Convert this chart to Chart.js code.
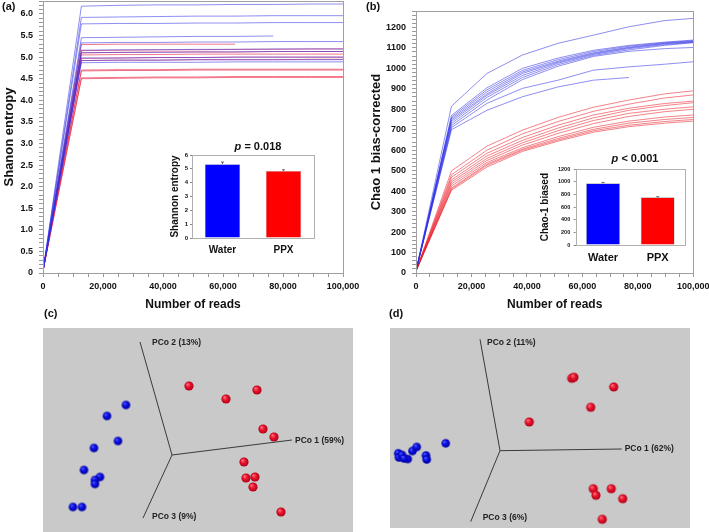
<!DOCTYPE html>
<html><head><meta charset="utf-8">
<script src="https://cdn.jsdelivr.net/npm/chart.js@4"></script>
<style>
body{margin:0;background:#fff;}
#wrap{position:relative;width:709px;height:532px;overflow:hidden;background:#fff;}
canvas{position:absolute;}
.lbl{position:absolute;font:bold 11px "Liberation Sans",Arial,sans-serif;color:#111;line-height:13px;}
</style></head><body>
<div id="wrap">
<canvas id="ca" width="366" height="312" style="left:0;top:0"></canvas>
<canvas id="cb" width="359" height="312" style="left:350px;top:0"></canvas>
<canvas id="ia" width="160" height="140" style="left:160px;top:130px"></canvas>
<canvas id="ib" width="170" height="140" style="left:530px;top:140px"></canvas>
<canvas id="cc" width="310" height="204" style="left:43px;top:328px"></canvas>
<canvas id="cd" width="300" height="200" style="left:390px;top:328px"></canvas>
<div class="lbl" style="left:2px;top:0">(a)</div>
<div class="lbl" style="left:366px;top:0">(b)</div>
<div class="lbl" style="left:44px;top:307px">(c)</div>
<div class="lbl" style="left:389px;top:307px">(d)</div>
</div>
<script>
// ---------------- DATA ----------------
const readsX = [0, 12800, 25600, 38400, 51200, 64000, 76800, 89600, 100000];

const shannonWater = [
  [0.05, 6.18, 6.20, 6.21, 6.21, 6.22, 6.22, 6.23, 6.23],
  [0.05, 5.92, 5.93, 5.94, 5.95, 5.95, 5.96, 5.96, 5.96],
  [0.05, 5.77, 5.78, 5.78, 5.79, 5.79, 5.80, 5.80, 5.80],
  [0.05, 5.45, 5.46, 5.47, 5.48, 5.48, 5.49],
  [0.05, 5.33, 5.34, 5.34, 5.35, 5.35, 5.36, 5.36, 5.36],
  [0.05, 5.16, 5.17, 5.17, 5.18, 5.18, 5.19, 5.19, 5.19],
  [0.05, 5.10, 5.11, 5.11, 5.12, 5.12, 5.13, 5.13, 5.13],
  [0.05, 4.98, 4.98, 4.99, 4.99, 5.00, 5.00, 5.00, 5.00],
  [0.05, 4.92, 4.93, 4.93, 4.94, 4.94, 4.94, 4.94, 4.94],
  [0.05, 4.87, 4.88, 4.88, 4.88, 4.89, 4.89, 4.89, 4.89]
];
const shannonPPX = [
  [0.05, 5.29, 5.30, 5.30, 5.30, 5.30],
  [0.05, 5.15, 5.16, 5.17, 5.17, 5.18, 5.18, 5.19, 5.19],
  [0.05, 5.10, 5.11, 5.12, 5.12, 5.12, 5.13, 5.13, 5.13],
  [0.05, 5.05, 5.06, 5.06, 5.07, 5.07, 5.07, 5.07, 5.07],
  [0.05, 4.97, 4.98, 4.99, 4.99, 5.00, 5.00, 5.00, 5.00],
  [0.05, 4.92, 4.93, 4.93, 4.94, 4.94, 4.94, 4.95, 4.95],
  [0.05, 4.70, 4.71, 4.71, 4.72, 4.72, 4.72, 4.72, 4.72],
  [0.05, 4.68, 4.69, 4.69, 4.70, 4.70, 4.70, 4.70, 4.70],
  [0.05, 4.52, 4.53, 4.54, 4.54, 4.55, 4.55, 4.55, 4.55],
  [0.05, 4.50, 4.51, 4.52, 4.52, 4.53, 4.53, 4.53, 4.53]
];

const chaoWater = [
  [10, 815, 975, 1065, 1122, 1162, 1203, 1233, 1244],
  [10, 770, 905, 1000, 1050, 1088, 1112, 1128, 1138],
  [10, 762, 895, 990, 1042, 1082, 1108, 1125, 1135],
  [10, 755, 885, 982, 1035, 1076, 1103, 1122, 1132],
  [10, 748, 875, 975, 1030, 1072, 1100, 1120, 1130],
  [10, 740, 868, 965, 1025, 1068, 1096, 1116, 1127],
  [10, 730, 858, 955, 1018, 1063, 1090, 1112, 1125],
  [10, 720, 845, 945, 1010, 1058, 1083, 1096, 1102],
  [10, 710, 829, 902, 942, 991, 1007, 1020, 1032],
  [10, 700, 795, 861, 909, 942, 955]
];
const chaoPPX = [
  [10, 499, 620, 698, 760, 810, 845, 875, 890],
  [10, 480, 600, 680, 740, 790, 825, 855, 870],
  [10, 468, 585, 662, 722, 772, 805, 828, 840],
  [10, 455, 572, 648, 708, 758, 795, 818, 832],
  [10, 445, 560, 636, 695, 745, 780, 800, 812],
  [10, 435, 550, 625, 682, 730, 765, 788, 800],
  [10, 425, 540, 612, 666, 712, 742, 762, 772],
  [10, 415, 532, 605, 657, 702, 732, 750, 760],
  [10, 410, 526, 600, 650, 695, 722, 740, 750],
  [10, 404, 518, 594, 644, 688, 715, 732, 742]
];

const groups = ['Water', 'PPX'];
const shannonMean = [5.34, 4.85];
const shannonErr = [0.15, 0.08];
const chaoMean = [978, 756];
const chaoErr = [14, 10];

// PCoA (projected coordinates, origin = centre of the axes)
const pcoaCWater = [
  {x:-0.46,y:0.50},{x:-0.65,y:0.39},{x:-0.54,y:0.14},{x:-0.78,y:0.07},{x:-0.88,y:-0.15},
  {x:-0.72,y:-0.22},{x:-0.77,y:-0.25},{x:-0.77,y:-0.29},{x:-0.99,y:-0.52},{x:-0.90,y:-0.52}
];
const pcoaCPPX = [
  {x:0.17,y:0.69},{x:0.54,y:0.56},{x:0.85,y:0.65},{x:0.91,y:0.26},{x:1.02,y:0.18},
  {x:0.72,y:-0.07},{x:0.74,y:-0.23},{x:0.83,y:-0.22},{x:0.81,y:-0.32},{x:1.09,y:-0.57}
];
const pcoaCAxes = [{x:1.20,y:0.15},{x:-0.32,y:1.13},{x:-0.29,y:-0.63}];
const pcoaCLabels = ['PCo 1 (59%)', 'PCo 2 (13%)', 'PCo 3 (9%)'];

const pcoaDWater = [
  {x:-1.017,y:-0.026},{x:-1.01,y:-0.068},{x:-0.98,y:-0.043},{x:-0.923,y:-0.083},{x:-0.875,y:-0.003},
  {x:-0.833,y:0.037},{x:-0.74,y:-0.048},{x:-0.733,y:-0.088},{x:-0.543,y:0.074},{x:-0.96,y:-0.078}
];
const pcoaDPPX = [
  {x:0.717,y:0.724},{x:0.74,y:0.734},{x:1.137,y:0.637},{x:0.907,y:0.434},{x:0.293,y:0.287},
  {x:0.933,y:-0.38},{x:0.96,y:-0.446},{x:1.113,y:-0.38},{x:1.227,y:-0.48},{x:1.023,y:-0.686}
];
const pcoaDAxes = [{x:1.217,y:0.017},{x:-0.20,y:1.114},{x:-0.293,y:-0.71}];
const pcoaDLabels = ['PCo 1 (62%)', 'PCo 2 (11%)', 'PCo 3 (6%)'];

// ---------------- RENDERING ----------------
const FAM = '"Liberation Sans", Arial, sans-serif';
Chart.defaults.font.family = FAM;
Chart.defaults.color = '#111';

const framePlugin = {
  id: 'frame',
  beforeDatasetsDraw(chart, args, o) {
    if (o && o.fill) {
      const a = chart.chartArea, ctx = chart.ctx;
      ctx.save(); ctx.fillStyle = o.fill; ctx.fillRect(a.left, a.top, a.right - a.left, a.bottom - a.top); ctx.restore();
    }
  },
  afterDraw(chart, args, o) {
    const a = chart.chartArea, ctx = chart.ctx;
    ctx.save(); ctx.strokeStyle = (o && o.color) || '#9a9a9a'; ctx.lineWidth = 1;
    ctx.strokeRect(Math.round(a.left) + 0.5, Math.round(a.top) + 0.5, Math.round(a.right - a.left), Math.round(a.bottom - a.top));
    ctx.restore();
  }
};

function toPts(arr) { return arr.map((v, i) => ({x: readsX[i], y: v})); }

function rarefaction(id, water, ppx, cfg) {
  const ds = [];
  water.forEach(s => ds.push({data: toPts(s), borderColor: cfg.blue, borderWidth: 1, pointRadius: 0, tension: 0}));
  ppx.forEach(s => ds.push({data: toPts(s), borderColor: cfg.red, borderWidth: 1, pointRadius: 0, tension: 0}));
  new Chart(document.getElementById(id), {
    type: 'line',
    data: {datasets: ds},
    options: {
      responsive: false, animation: false,
      layout: {autoPadding: false, padding: {left: 0, right: cfg.padRight, top: cfg.padTop, bottom: 0}},
      plugins: {legend: {display: false}, tooltip: {enabled: false}, frame: {color: '#a0a0a0'}},
      scales: {
        x: {
          type: 'linear', min: 0, max: 100000,
          afterFit(s) { s.height = 39; s.paddingLeft = 0; s.paddingRight = 0; },
          ticks: {stepSize: 5000, autoSkip: false, maxRotation: 0, minRotation: 0, padding: 4,
            font: {size: 9, weight: 'bold'}, color: '#111',
            callback: v => (v % 20000 === 0 ? v.toLocaleString('en-US') : '')},
          grid: {drawOnChartArea: false, drawTicks: true, tickLength: 4, color: '#999'},
          border: {color: '#a0a0a0'},
          title: {display: true, text: 'Number of reads', font: {size: 12, weight: 'bold'}, color: '#111', padding: {top: 0, bottom: 0}}
        },
        y: {
          min: 0, max: cfg.yMax,
          afterFit(s) { s.width = cfg.yWidth; s.paddingTop = 0; s.paddingBottom = 0; },
          ticks: {stepSize: cfg.minor, autoSkip: false, padding: 6, font: {size: 9, weight: 'bold'}, color: '#111',
            callback: cfg.yLabel},
          grid: {drawOnChartArea: false, drawTicks: true, tickLength: 4, color: '#999'},
          border: {color: '#a0a0a0'},
          title: {display: true, text: cfg.yTitle, font: {size: 13, weight: 'bold'}, color: '#111', padding: {top: cfg.titlePad, bottom: 0}}
        }
      }
    },
    plugins: [framePlugin]
  });
}

rarefaction('ca', shannonWater, shannonPPX, {
  blue: 'rgba(50,50,230,0.55)', red: 'rgba(235,30,60,0.6)',
  padRight: 23, padTop: 1, yMax: 6.3, minor: 0.1, yWidth: 43, titlePad: 2,
  yTitle: 'Shanon entropy',
  yLabel: v => { const k = Math.round(v * 10); if (k % 5 !== 0) return ''; return k === 0 ? '0' : (k / 10).toFixed(1); }
});
rarefaction('cb', chaoWater, chaoPPX, {
  blue: 'rgba(50,50,230,0.55)', red: 'rgba(235,30,40,0.55)',
  padRight: 15.7, padTop: 11, yMax: 1280, minor: 20, yWidth: 66, titlePad: 19,
  yTitle: 'Chao 1 bias-corrected',
  yLabel: v => (Math.round(v) % 100 === 0 ? String(Math.round(v)) : '')
});

const insetPlugin = {
  id: 'inset',
  afterDraw(chart, args, o) {
    const ctx = chart.ctx;
    ctx.save(); ctx.fillStyle = '#111'; ctx.textBaseline = 'middle'; ctx.textAlign = 'left';
    const f1 = `italic bold ${o.size}px ${FAM}`, f2 = `bold ${o.size}px ${FAM}`;
    ctx.font = f1; const w1 = ctx.measureText(o.p).width;
    ctx.font = f2; const w2 = ctx.measureText(o.rest).width;
    const x0 = o.x - (w1 + w2) / 2;
    ctx.font = f1; ctx.fillText(o.p, x0, o.y);
    ctx.font = f2; ctx.fillText(o.rest, x0 + w1, o.y);
    // error bars
    const meta = chart.getDatasetMeta(0), ys = chart.scales.y;
    ctx.strokeStyle = '#666'; ctx.lineWidth = 1;
    meta.data.forEach((el, i) => {
      const yT = ys.getPixelForValue(o.mean[i] + o.err[i]);
      ctx.beginPath(); ctx.moveTo(el.x, el.y); ctx.lineTo(el.x, yT);
      ctx.moveTo(el.x - 1.5, yT); ctx.lineTo(el.x + 1.5, yT); ctx.stroke();
    });
    ctx.restore();
  }
};

function insetChart(id, cfg) {
  new Chart(document.getElementById(id), {
    type: 'bar',
    data: {labels: groups, datasets: [{data: cfg.mean, backgroundColor: ['#0000ff', '#ff0000'],
      borderColor: 'rgba(0,0,0,0.35)', borderWidth: 0.6, barPercentage: cfg.barPct, categoryPercentage: 1}]},
    options: {
      responsive: false, animation: false,
      layout: {autoPadding: false, padding: {left: 0, right: cfg.padRight, top: cfg.padTop, bottom: 0}},
      plugins: {legend: {display: false}, tooltip: {enabled: false},
        frame: {color: '#b0b0b0', fill: '#ffffff'},
        inset: {p: 'p', rest: cfg.pText, size: 11, x: cfg.pX, y: cfg.pY, mean: cfg.mean, err: cfg.err}},
      scales: {
        x: {
          afterFit(s) { s.height = cfg.xHeight; s.paddingLeft = 0; s.paddingRight = 0; },
          ticks: {padding: cfg.xPad, font: {size: cfg.catSize, weight: 'bold'}, color: '#111', maxRotation: 0},
          grid: {display: false, drawTicks: false},
          border: {display: false}
        },
        y: {
          min: 0, max: cfg.yMax,
          afterFit(s) { s.width = cfg.yWidth; s.paddingTop = 0; s.paddingBottom = 0; },
          ticks: {stepSize: cfg.step, padding: cfg.tickPad, font: {size: cfg.tickSize, weight: 'bold'}, color: '#111',
            autoSkip: false, callback: v => String(v)},
          grid: {drawOnChartArea: false, drawTicks: true, tickLength: 2, color: '#888'},
          border: {display: false},
          title: {display: true, text: cfg.yTitle, font: {size: 10, weight: 'bold'}, color: '#111', padding: {top: 9, bottom: 0}}
        }
      }
    },
    plugins: [framePlugin, insetPlugin]
  });
}

insetChart('ia', {mean: shannonMean, err: shannonErr, yMax: 6, step: 1, yTitle: 'Shannon entropy',
  pText: ' = 0.018', pX: 98, pY: 17, padRight: 6, padTop: 25, xHeight: 32, yWidth: 32, xPad: 6,
  tickPad: 2, tickSize: 6, catSize: 10, barPct: 0.58});
insetChart('ib', {mean: chaoMean, err: chaoErr, yMax: 1200, step: 200, yTitle: 'Chao-1 biased',
  pText: ' < 0.001', pX: 105, pY: 19, padRight: 15, padTop: 29.3, xHeight: 35, yWidth: 45.7, xPad: 6.5,
  tickPad: 3.5, tickSize: 5.5, catSize: 11, barPct: 0.62});

function sphere(r, light, base, dark) {
  const c = document.createElement('canvas');
  const s = Math.ceil(2 * r + 2); c.width = s; c.height = s;
  const g = c.getContext('2d'), cx = s / 2, cy = s / 2;
  const grad = g.createRadialGradient(cx - r * 0.35, cy - r * 0.4, r * 0.1, cx, cy, r);
  grad.addColorStop(0, light); grad.addColorStop(0.45, base); grad.addColorStop(1, dark);
  g.fillStyle = grad; g.beginPath(); g.arc(cx, cy, r, 0, Math.PI * 2); g.fill();
  return c;
}
const blueSphere = sphere(4.3, '#4a50ff', '#0a10e0', '#0000a0');
const redSphere = sphere(4.6, '#ff6a78', '#e8142c', '#b0001a');

const axisLabelPlugin = {
  id: 'axisLabels',
  afterDatasetsDraw(chart, args, o) {
    const ctx = chart.ctx, xs = chart.scales.x, ys = chart.scales.y;
    ctx.save(); ctx.fillStyle = '#222'; ctx.font = `bold 8.5px ${FAM}`; ctx.textAlign = 'left'; ctx.textBaseline = 'middle';
    o.ends.forEach((p, i) => {
      ctx.fillText(o.labels[i], xs.getPixelForValue(p.x) + o.off[i][0], ys.getPixelForValue(p.y) + o.off[i][1]);
    });
    ctx.restore();
  }
};

function pcoa(id, water, ppx, ends, labels, xr, yr, off) {
  const ds = ends.map(e => ({data: [{x: 0, y: 0}, e], showLine: true, borderColor: '#3a3a3a', borderWidth: 1, pointRadius: 0}));
  ds.push({data: water, pointStyle: blueSphere, pointRadius: 5});
  ds.push({data: ppx, pointStyle: redSphere, pointRadius: 5});
  new Chart(document.getElementById(id), {
    type: 'scatter',
    data: {datasets: ds},
    options: {
      responsive: false, animation: false,
      layout: {autoPadding: false, padding: 0},
      plugins: {legend: {display: false}, tooltip: {enabled: false},
        frame: {color: '#c9c9c9', fill: '#c9c9c9'},
        axisLabels: {ends: ends, labels: labels, off: off}},
      scales: {
        x: {display: false, min: xr[0], max: xr[1]},
        y: {display: false, min: yr[0], max: yr[1]}
      }
    },
    plugins: [framePlugin, axisLabelPlugin]
  });
}

pcoa('cc', pcoaCWater, pcoaCPPX, pcoaCAxes, pcoaCLabels, [-1.29, 1.81], [-0.77, 1.27], [[3, 1], [12, 1], [9, -1]]);
pcoa('cd', pcoaDWater, pcoaDPPX, pcoaDAxes, pcoaDLabels, [-1.10, 1.90], [-0.773, 1.227], [[3, 0], [7, 3], [12, -4]]);
</script>
</body></html>
